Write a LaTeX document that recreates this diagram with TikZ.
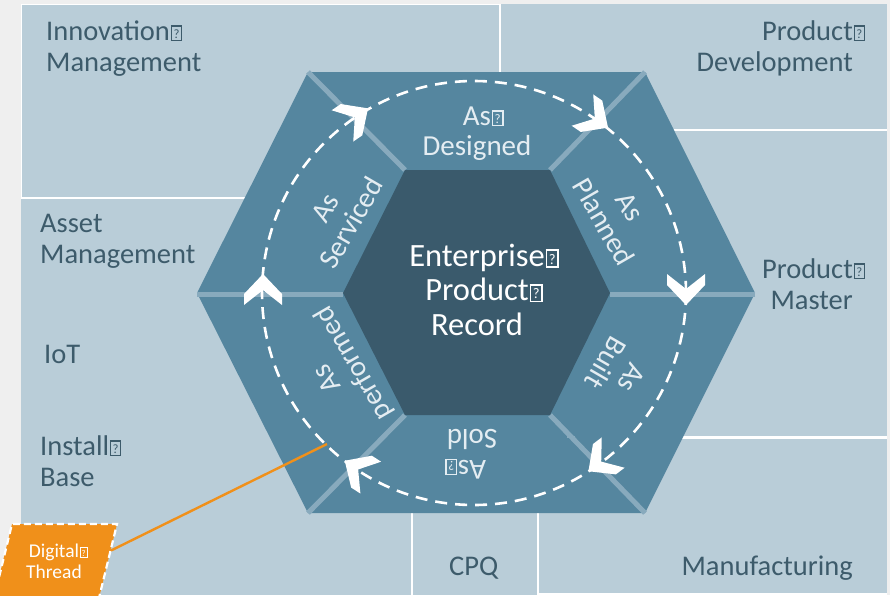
\documentclass[tikz,border=0pt]{standalone}
\usepackage{fontspec}
\setmainfont{Carlito}
\usepackage{graphicx}
\definecolor{bggray}{HTML}{EFEFEF}
\definecolor{panel}{HTML}{B9CDD8}
\definecolor{seg}{HTML}{55869F}
\definecolor{innerc}{HTML}{3A5A6C}
\definecolor{sepc}{HTML}{88AABD}
\definecolor{darktext}{HTML}{3D5B6B}
\definecolor{segtext}{HTML}{E4EDF2}
\definecolor{orangec}{HTML}{F0901A}
\newcommand\qb{\kern0.03em{\setlength\fboxsep{0pt}\setlength\fboxrule{0.05em}\fbox{\makebox[0.3em]{\rule{0pt}{0.46em}\raisebox{0.05em}{\scalebox{0.45}{?}}}}}}
\newcommand\fpanel{\fontsize{28.5}{31}\selectfont}
\newcommand\fseg{\fontsize{29}{30.5}\selectfont}
\newcommand\fcenter{\fontsize{32.5}{34.5}\selectfont}
\newcommand\fdt{\fontsize{19.5}{21}\selectfont}
\newcommand\chev[3]{\fill[white, shift={(#1,#2)}, rotate=#3] (17,0) -- (-3,19) -- (-14,19) -- (1,0) -- (-14,-19) -- (-3,-19) -- cycle;}
\tikzset{
  panelbox/.style={fill=panel},
  lab/.style={text=darktext, font=\fpanel, inner sep=0pt},
  seglab/.style={text=segtext, font=\fseg, inner sep=0pt},
  sepline/.style={draw=sepc, line width=5pt},
  orangeline/.style={draw=orangec, line width=2.4pt},
}
\begin{document}
\begin{tikzpicture}[x=1pt,y=-1pt]
\useasboundingbox (0,0) rectangle (890,595);
\fill[bggray] (0,0) rectangle (890,595);
\fill[white] (21,4) rectangle (887,595);
% panels
\fill[panelbox] (22,5) rectangle (499,197);
\fill[panelbox] (501,4) rectangle (887,129);
\fill[panelbox] (560,131) rectangle (887,436);
\fill[panelbox] (21,199) rectangle (411,595);
\fill[panelbox] (413,439) rectangle (537,595);
\fill[panelbox] (539,439) rectangle (887,593);
% hexagon
\fill[seg] (197,293) -- (308,72) -- (645,72) -- (755,293) -- (645,513) -- (308,513) -- cycle;
\draw[sepline] (197,294) -- (343,294);
\draw[sepline] (755,294) -- (610,294);
\draw[sepline] (308,72) -- (405,170);
\draw[sepline] (645,72) -- (550,170);
\draw[sepline] (645,513) -- (550,415);
\draw[sepline] (308,513) -- (405,415);
\fill[innerc] (343,293) -- (405,170) -- (550,170) -- (610,293) -- (550,415) -- (405,415) -- cycle;
\draw[sepc, line width=2pt] (567,437) -- (575,437);
% dashed cycle
\draw[white, line width=2.6pt, dash pattern=on 12pt off 8pt] (474,293) circle[radius=212];
\chev{354}{118}{34.5}
\chev{594}{118}{-34.5}
\chev{686}{288}{-90}
\chev{602}{461}{-143}
\chev{359}{470}{147}
\chev{263}{291}{90}
% segment labels
\node[seglab, anchor=base] (designed) at (477,125) {\begin{tabular}[t]{@{}c@{}}As\rlap{\qb}\\Designed\end{tabular}};
\node[seglab, rotate=60] (serviced) at (341,217) {\begin{tabular}{@{}c@{}}As\\Serviced\end{tabular}};
\node[seglab, rotate=-60] (planned) at (614,216) {\begin{tabular}{@{}c@{}}As\\Planned\end{tabular}};
\node[seglab, rotate=-120] (built) at (616,369) {\begin{tabular}{@{}c@{}}As\\Built\end{tabular}};
\node[seglab, rotate=180] (sold) at (472,451) {\begin{tabular}{@{}c@{}}As\rlap{\qb}\\Sold\end{tabular}};
\node[seglab, rotate=120] (performed) at (342,370) {\begin{tabular}{@{}c@{}}As\\performed\end{tabular}};
% center
\node[text=white, font=\fcenter, inner sep=0pt, anchor=base] (epr) at (477,266) {\begin{tabular}[t]{@{}c@{}}Enterprise\rlap{\qb}\\Product\rlap{\qb}\\Record\end{tabular}};
% panel labels
\node[lab, anchor=base west] (innov) at (46,40) {\begin{tabular}[t]{@{}l@{}}Innovation\qb\\Management\end{tabular}};
\node[lab, anchor=base east] (pdev) at (853,40) {\begin{tabular}[t]{@{}r@{}}Product\rlap{\qb}\\Development\end{tabular}};
\node[lab, anchor=base east] (pmaster) at (853,278) {\begin{tabular}[t]{@{}r@{}}Product\rlap{\qb}\\Master\end{tabular}};
\node[lab, anchor=base west] (asset) at (40,232) {\begin{tabular}[t]{@{}l@{}}Asset\\Management\end{tabular}};
\node[lab, anchor=base west] (iot) at (44,363) {IoT};
\node[lab, anchor=base west] (install) at (40,455) {\begin{tabular}[t]{@{}l@{}}Install\qb\\Base\end{tabular}};
\node[lab, anchor=base west] (cpq) at (449,575) {CPQ};
\node[lab, anchor=base east] (manu) at (853,575) {Manufacturing};
% digital thread
\coordinate (dtr) at (110,551);
\coordinate (dte) at (327,444);
\draw[orangeline] (dtr) -- (dte);
\fill[orangec] (12,524) -- (117,524) -- (99,598) -- (-6,598) -- cycle;
\draw[white, line width=2.2pt, dash pattern=on 7pt off 4pt] (-6,598) -- (12,524) -- (117,524) -- (99,598);
\node[text=white, font=\fdt, inner sep=0pt, anchor=base] (dt) at (54,557) {\begin{tabular}[t]{@{}c@{}}Digital\rlap{\qb}\\Thread\end{tabular}};
\end{tikzpicture}
\end{document}
